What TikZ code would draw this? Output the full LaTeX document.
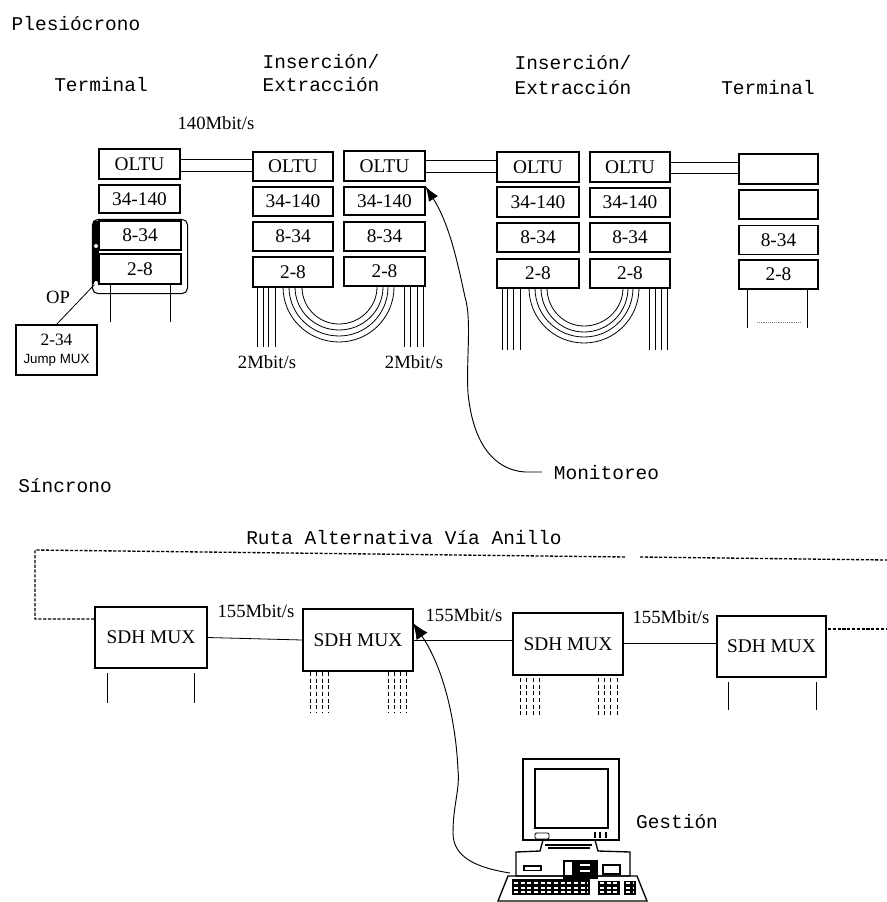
\documentclass[tikz,border=0pt]{standalone}
\usepackage{fontspec}
\setmainfont{Liberation Serif}
\newfontfamily\mn{Liberation Mono}
\newfontfamily\sn{Liberation Sans}
\usetikzlibrary{arrows.meta,calc}
\tikzset{
 x=0.75pt,y=-0.75pt,
 box/.style={draw,line width=0.8pt,inner sep=0pt,font=\fontsize{14.5}{15}\selectfont},
 mux/.style={draw,line width=1.1pt,inner sep=0pt,font=\fontsize{14.5}{15}\selectfont},
 wire/.style={line width=0.6pt},
 lab/.style={inner sep=0pt,font=\fontsize{14}{15}\selectfont},
 mono/.style={inner sep=0pt,font=\mn\fontsize{14.6}{15}\selectfont},
 ring/.style={line width=1pt,dash pattern=on 2.4pt off 1.2pt},
}
\newcommand{\bx}[6][box]{\node[#1,minimum width=#4*0.75pt,minimum height=#5*0.75pt] (#2) at (#3) {#6};}
\begin{document}
\begin{tikzpicture}
\useasboundingbox (0,0) rectangle (887,902);
% top labels
\node[mono] (tplesio) at (76,24) {Plesiócrono};
\node[mono] (tterm1) at (101,85) {Terminal};
\node[mono] (tins1) at (321,62) {Inserción/};
\node[mono] (text1) at (321,85) {Extracción};
\node[mono] (tins2) at (573,63) {Inserción/};
\node[mono] (text2) at (573,88) {Extracción};
\node[mono] (tterm2) at (768,88) {Terminal};
\node[lab] (t140) at (216,123) {140Mbit/s};
% columns
\bx{a1}{139.5,164}{81}{30}{OLTU}
\bx{a2}{139.5,199}{81}{28}{34-140}
\bx{a3}{140,235.5}{82}{29}{8-34}
\bx{a4}{140,269}{82}{30}{2-8}
\bx{b1}{293,166.5}{80}{29}{OLTU}
\bx{b2}{293,201.5}{80}{29}{34-140}
\bx{b3}{293,236.5}{80}{29}{8-34}
\bx{b4}{293,272}{80}{30}{2-8}
\bx{c1}{384.5,166}{81}{30}{OLTU}
\bx{c2}{384.5,201}{81}{28}{34-140}
\bx{c3}{384.5,236.5}{81}{29}{8-34}
\bx{c4}{384.5,271.5}{81}{29}{2-8}
\bx{d1}{538,167}{82}{30}{OLTU}
\bx{d2}{538,202}{82}{30}{34-140}
\bx{d3}{538,237.5}{82}{29}{8-34}
\bx{d4}{538,273.5}{82}{29}{2-8}
\bx{e1}{630,167}{80}{30}{OLTU}
\bx{e2}{630,202.5}{80}{29}{34-140}
\bx{e3}{630,237.5}{80}{29}{8-34}
\bx{e4}{630,273.5}{80}{29}{2-8}
\bx{f1}{778.5,169}{79}{30}{}
\bx{f2}{778.5,204.5}{79}{29}{}
\bx{f3}{778.5,240}{79}{29}{8-34}
\bx{f4}{778.5,274.5}{79}{29}{2-8}
% double links
\foreach \p/\q/\ya/\yb in {a1/b1/159/171,c1/d1/160/172,e1/f1/162/173}{
 \draw[wire] (\p.east |- 0,\ya) -- (\q.west |- 0,\ya);
 \draw[wire] (\p.east |- 0,\yb) -- (\q.west |- 0,\yb);
}
% OP group
\draw[line width=0.8pt,rounded corners=4pt] (a3.north west) ++(-6,-1) coordinate (g0) rectangle ($(a4.south east)+(6,9)$);
\fill (93,221) rectangle (99,284);
\node[circle,fill=white,inner sep=0pt,minimum size=3pt] (op1) at (96,246) {};
\node[circle,fill=white,inner sep=0pt,minimum size=3pt] (op2) at (96,283) {};
\node[draw,line width=0.8pt,minimum width=60.75pt,minimum height=37.5pt,inner sep=0pt,align=center] (jump) at (56.5,350) {\fontsize{13}{14}\selectfont 2-34\\[1pt]\sn\fontsize{10}{11}\selectfont Jump MUX};
\draw[wire] (op2) -- (jump.north);
\node[lab] (tOP) at (58,297) {OP};
% tributaries terminals
\foreach \x in {110,170}{\draw[wire] (\x,284) -- (\x,322);}
\foreach \x in {747,807}{\draw[wire] (\x,289) -- (\x,328);}
\coordinate (fb1) at (757,322); \coordinate (fb2) at (800,322);
\draw[line width=0.4pt,densely dotted,gray] (fb1) -- (fb2);
% tributaries add-drop
\foreach \x in {257,263,268,275,404,410,417,423}{\draw[wire] (\x,287) -- (\x,347);}
\foreach \x in {502,507,513,520,649,655,661,667}{\draw[wire] (\x,288) -- (\x,350);}
% U bundles
\foreach \l/\r/\c/\b/\t in {283/394/339/342/287,289/388/339/336/287,295/383/339/330/287,302/377/339/324/287,529/639/584/343/288,535/633/584/337/288,541/628/584/332/288,547/623/584/326/288}{
 \draw[wire] (\l,\t) to[out=-90,in=180] (\c,\b) to[out=0,in=-90] (\r,\t);
}
\node[lab] (t2a) at (267,362) {2Mbit/s};
\node[lab] (t2b) at (414,362) {2Mbit/s};
% monitor
\node[mono] (tmon) at (606.5,473) {Monitoreo};
\coordinate (monend) at (542,472);
\draw[line width=0.7pt,-{Latex[length=11pt,width=8pt]}] (monend) -- (525,472) .. controls (495,470) and (473,445) .. (468,393) .. controls (466,360) and (472,320) .. (465,297) .. controls (458,265) and (450,225) .. (c2.north east);
% sincrono
\node[mono] (tsin) at (65,486) {Síncrono};
\node[mono] (truta) at (404,538) {Ruta Alternativa Vía Anillo};
\bx[mux]{m1}{151,637.5}{112}{61}{SDH MUX}
\bx[mux]{m2}{358,640}{110}{62}{SDH MUX}
\bx[mux]{m3}{568,644}{110}{62}{SDH MUX}
\bx[mux]{m4}{771.5,646.5}{109}{61}{SDH MUX}
\node[lab] (s1) at (256,611) {155Mbit/s};
\node[lab] (s2) at (464,615) {155Mbit/s};
\node[lab] (s3) at (671,617) {155Mbit/s};
\draw[wire] (m1.east) -- (m2.west);
\draw[wire] (m2.east) -- (m3.west |- m2.east);
\draw[wire] (m3.east |- 0,643) -- (m4.west |- 0,643);
% ring
\coordinate (r1) at (35,619); \coordinate (r2) at (35,550); \coordinate (r3) at (626,557); \coordinate (r3b) at (640,557); \coordinate (r3c) at (887,560); \coordinate (r4) at (828,629); \coordinate (r5) at (887,629);
\draw[ring] (m1.west |- r1) -- (r1) -- (r2) -- (r3);
\draw[ring] (r3b) -- (r3c);
\draw[ring,line width=0.8pt] (r4) -- (r5);
% trib lines SDH
\foreach \x in {107,194}{\draw[wire] (\x,673) -- (\x,703);}
\foreach \x in {310,316,322,328,388,394,400,406}{\draw[wire,densely dashed] (\x,672) -- (\x,713);}
\foreach \x in {520,526,533,539,598,604,610,617}{\draw[wire,densely dashed] (\x,678) -- (\x,715);}
\foreach \x in {728,816}{\draw[wire] (\x,682) -- (\x,710);}
% PC
\draw[line width=1pt] (523,759) rectangle (619,840);
\draw[line width=0.9pt] (535,769) rectangle (608,828);
\draw[line width=0.7pt,rounded corners=1pt] (535,833) rectangle (549,839);
\draw[line width=1pt] (595,832) -- (595,838) (600,832) -- (600,838) (606,832) -- (606,838);
\draw[line width=1.0pt] (543,840) -- (540,851) -- (516,852) -- (516,876) -- (630,876) -- (630,852) -- (598,851) -- (595,840);
\draw[line width=0.8pt] (545,845) -- (592,845) (548,848) -- (590,848);
\fill (523,865) rectangle (542,871);
\fill[white] (525,866.5) rectangle (540,869.5);
\fill (563,860) rectangle (598,879);
\fill[white] (565,862) rectangle (572,875);
\fill[white] (580,864) rectangle (590,866);
\fill[white] (580,870) rectangle (590,872);
\draw[line width=0.8pt] (603,865) rectangle (620,874);
\draw[line width=1pt] (508,876) -- (637,876) -- (647,901) -- (498,901) -- cycle;
\fill (512,879) rectangle (590,895);
\fill (598,881) rectangle (620,895);
\fill (624,881) rectangle (636,895);
\foreach \y in {883,888,892}{\draw[white,line width=1pt,dash pattern=on 3pt off 2pt] (514,\y) -- (588,\y) (600,\y) -- (618,\y) (626,\y) -- (634,\y);}
\coordinate (pccon) at (510,873);
\coordinate (m2tip) at (413,623);
\draw[line width=0.7pt,-{Latex[length=12pt,width=10pt]}] (pccon) .. controls (478,868) and (453,858) .. (453,833) .. controls (453,805) and (460,790) .. (458,770) .. controls (456,725) and (445,670) .. (m2tip);
\node[mono] (tges) at (677,822) {Gestión};
\end{tikzpicture}
\end{document}
